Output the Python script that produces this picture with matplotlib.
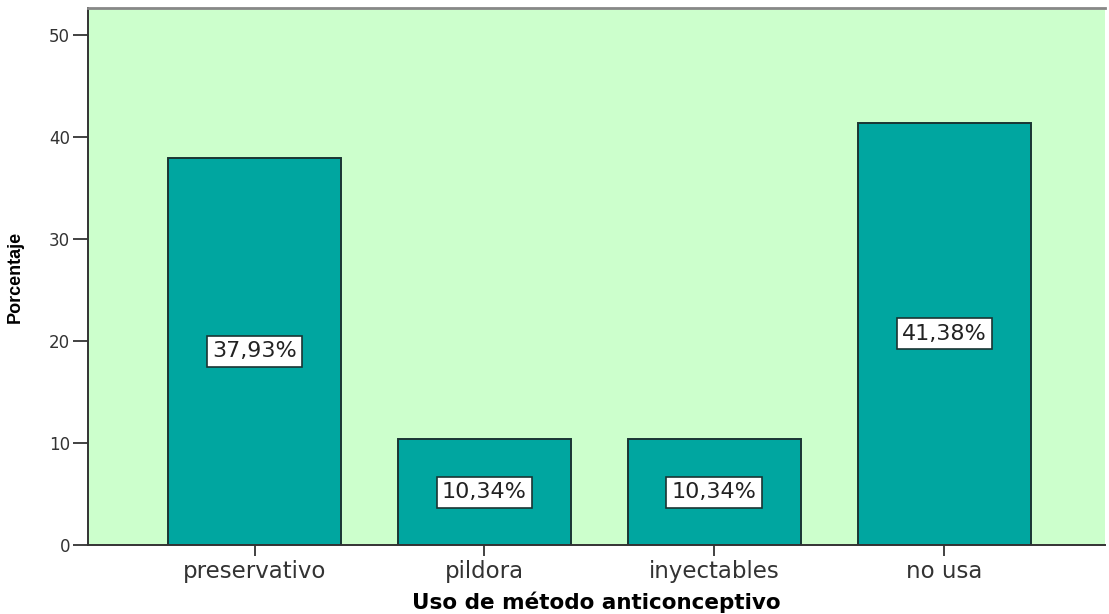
import numpy as np
import matplotlib.pyplot as plt

categories = ['preservativo', 'pildora', 'inyectables', 'no usa']
percent = [37.93, 10.34, 10.34, 41.38]
labels = ['37,93%', '10,34%', '10,34%', '41,38%']
yticks = [0, 10, 20, 30, 40, 50]

plt.rcParams['font.family'] = 'DejaVu Sans'

fig = plt.figure(figsize=(11.09, 6.14), dpi=100)
ax = fig.add_axes([88/1109, 1-545/614, (1105-88)/1109, (545-8)/614])
ax.set_facecolor('#CCFFCC')

x = np.arange(len(categories))
ax.bar(x, percent, width=0.752, color='#00A6A0', edgecolor='#1a3533', linewidth=1.4, zorder=2)

# value boxes sit halfway up each bar
for xi, v, lab in zip(x, percent, labels):
    ax.text(xi, v / 2, lab, ha='center', va='center', fontsize=16,
            color='#222222', zorder=3,
            bbox=dict(boxstyle='square,pad=0.25', facecolor='white', edgecolor='#1a3533', linewidth=1.2))

ax.set_xlim(-0.724, 3.698)
ax.set_ylim(0, 52.6)
ax.set_yticks(yticks)
ax.set_xticks(x)
ax.set_xticklabels(categories, fontsize=16.5, color='#222222')
ax.tick_params(axis='y', length=11, width=1.3, labelsize=12, colors='#333333', pad=2)
ax.tick_params(axis='x', length=8, width=1.3, pad=3, colors='#333333')

ax.spines['right'].set_visible(False)
ax.spines['top'].set_color('#888888')
ax.spines['top'].set_linewidth(2)
for side in ['left', 'bottom']:
    ax.spines[side].set_color('#333333')
    ax.spines[side].set_linewidth(1.4)

ax.set_xlabel('Uso de método anticonceptivo', fontsize=15.5, fontweight='bold', labelpad=6)
ax.set_ylabel('Porcentaje', fontsize=13, fontweight='bold', family='Liberation Sans')
ax.yaxis.set_label_coords(-64/1017, 0.5)

fig.savefig('out.png', dpi=100)
